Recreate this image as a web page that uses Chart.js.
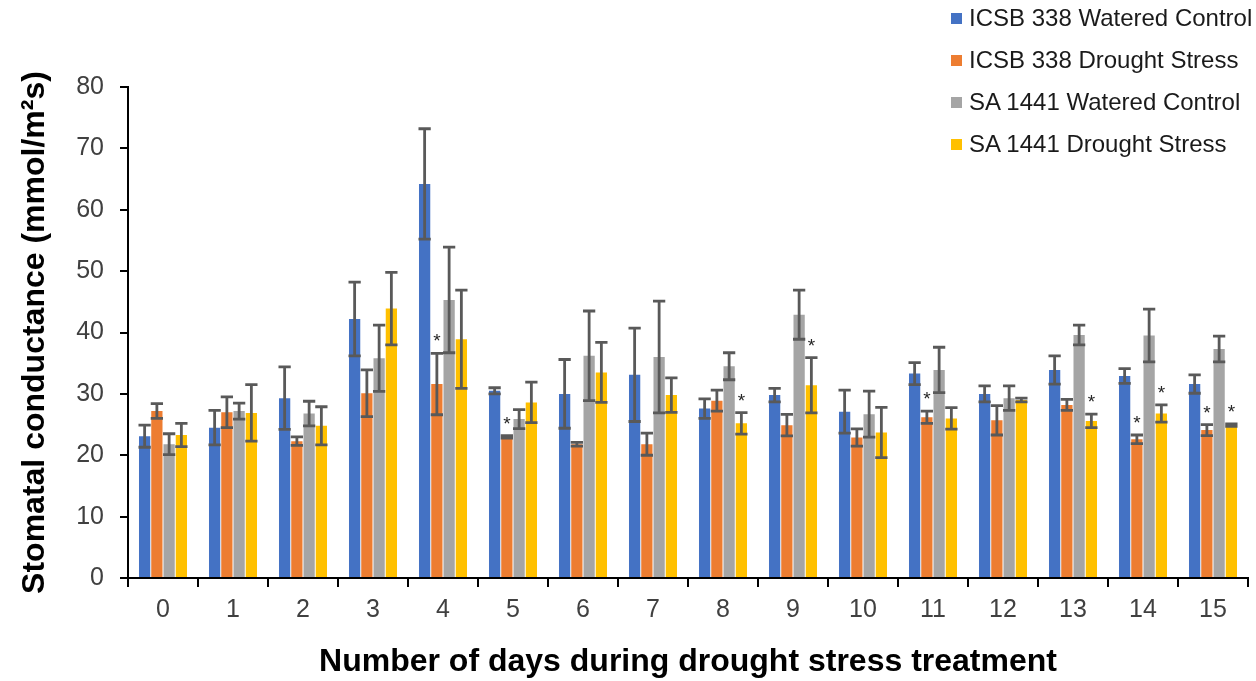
<!DOCTYPE html>
<html>
<head>
<meta charset="utf-8">
<script src="https://cdn.jsdelivr.net/npm/chart.js@4.4.1/dist/chart.umd.min.js"></script>
<style>
    body { margin: 0; background: #fff; }
    #wrap { position: relative; width: 1256px; height: 681px; }
    #legend { position: absolute; left: 951px; top: -3px; font-family: "Liberation Sans", Arial, sans-serif; font-size: 24px; color: #1a1a1a; }
    #legend div { height: 42px; display: flex; align-items: center; white-space: nowrap; }
    #legend span.box { display: inline-block; width: 11px; height: 11px; margin-right: 7px; }
</style>
</head>
<body>
<div id="wrap">
    <canvas id="myChart"></canvas>
    <div id="legend"></div>
</div>
<script>
// data
const days = ['0', '1', '2', '3', '4', '5', '6', '7', '8', '9', '10', '11', '12', '13', '14', '15'];

const icsbControl = [23.1, 24.5, 29.3, 42.2, 64.2, 30.5, 30.0, 33.1, 27.6, 29.8, 27.1, 33.3, 30.0, 33.9, 32.9, 31.6];
const icsbControlErr = [1.8, 2.8, 5.1, 6.0, 9.0, 0.5, 5.6, 7.6, 1.6, 1.1, 3.5, 1.8, 1.3, 2.3, 1.2, 1.5];

const icsbDrought = [27.2, 27.0, 22.3, 30.1, 31.6, 23.0, 21.8, 21.8, 28.9, 24.9, 22.9, 26.2, 25.7, 28.2, 22.6, 24.1];
const icsbDroughtErr = [1.2, 2.5, 0.7, 3.8, 5.0, 0.2, 0.3, 1.8, 1.7, 1.75, 1.4, 1.0, 2.4, 0.9, 0.7, 0.9];

const saControl = [21.8, 27.2, 26.8, 35.8, 45.3, 25.9, 36.2, 36.0, 34.5, 42.9, 26.7, 33.9, 29.3, 39.6, 39.5, 37.3];
const saControlErr = [1.7, 1.3, 2.0, 5.4, 8.6, 1.55, 7.3, 9.1, 2.2, 4.0, 3.75, 3.7, 2.0, 1.6, 4.3, 2.1];

const saDrought = [23.3, 26.9, 24.8, 43.9, 38.9, 28.6, 33.5, 29.8, 25.2, 31.4, 23.7, 26.0, 29.0, 25.6, 26.8, 24.9];
const saDroughtErr = [1.9, 4.6, 3.1, 5.9, 8.0, 3.3, 4.9, 2.8, 1.75, 4.5, 4.1, 1.75, 0.3, 1.1, 1.4, 0.2];

// days marked with * (significant)
const icsbDroughtStars = [4, 5, 11, 14, 15];
const saDroughtStars = [8, 9, 13, 14, 15];

const yTicks = [0, 10, 20, 30, 40, 50, 60, 70, 80];

const font = '"Liberation Sans", Arial, sans-serif';

const series = [
    { label: 'ICSB 338 Watered Control', data: icsbControl, err: icsbControlErr, stars: [], color: '#4472C4' },
    { label: 'ICSB 338 Drought Stress', data: icsbDrought, err: icsbDroughtErr, stars: icsbDroughtStars, color: '#ED7D31' },
    { label: 'SA 1441 Watered Control', data: saControl, err: saControlErr, stars: [], color: '#A5A5A5' },
    { label: 'SA 1441 Drought Stress', data: saDrought, err: saDroughtErr, stars: saDroughtStars, color: '#FFC000' }
];

//error bars + asterisks
const errorBars = {
    id: 'errorBars',
    afterDatasetsDraw(chart) {
        const ctx = chart.ctx;
        const yScale = chart.scales.y;
        ctx.save();
        series.forEach((s, i) => {
            const meta = chart.getDatasetMeta(i);
            meta.data.forEach((bar, j) => {
                const top = yScale.getPixelForValue(s.data[j] + s.err[j]);
                const bot = yScale.getPixelForValue(s.data[j] - s.err[j]);
                const half = bar.width / 2 + 0.5;
                ctx.strokeStyle = '#595959';
                ctx.lineWidth = 2.8;
                ctx.beginPath();
                ctx.moveTo(bar.x, top);
                ctx.lineTo(bar.x, bot);
                ctx.moveTo(bar.x - half, top);
                ctx.lineTo(bar.x + half, top);
                ctx.moveTo(bar.x - half, bot);
                ctx.lineTo(bar.x + half, bot);
                ctx.stroke();
                if (s.stars.includes(j)) {
                    ctx.fillStyle = '#262626';
                    ctx.font = '19px ' + font;
                    ctx.textAlign = 'center';
                    ctx.textBaseline = 'alphabetic';
                    ctx.fillText('*', bar.x, top - 6);
                }
            });
        });
        ctx.restore();
    }
};

// legend
const legend = document.getElementById('legend');
series.forEach(s => {
    const row = document.createElement('div');
    row.innerHTML = '<span class="box" style="background:' + s.color + '"></span>' + s.label;
    legend.appendChild(row);
});

const ctx = document.getElementById('myChart');

new Chart(ctx, {
    type: 'bar',
    data: {
        labels: days,
        datasets: series.map(s => ({
            label: s.label,
            data: s.data,
            backgroundColor: s.color,
            borderWidth: 0,
            categoryPercentage: 0.7,
            barPercentage: 0.92
        }))
    },
    options: {
        responsive: true,
        maintainAspectRatio: false,
        animation: false,
        devicePixelRatio: 1,
        layout: { padding: { top: 87, right: 8, left: 0, bottom: 0 } },
        plugins: {
            legend: { display: false },
            tooltip: { enabled: false }
        },
        scales: {
            x: {
                grid: { drawOnChartArea: false, tickLength: 9, color: '#000', lineWidth: 2 },
                border: { display: true, color: '#000', width: 2 },
                ticks: { color: '#404040', font: { family: font, size: 25 }, padding: 8 },
                title: {
                    display: true,
                    text: 'Number of days during drought stress treatment',
                    color: '#000',
                    font: { family: font, size: 32, weight: 'bold' },
                    padding: { top: 0, bottom: 0 }
                },
                afterFit(scale) { scale.height = 103; }
            },
            y: {
                min: 0,
                max: 80,
                afterBuildTicks(scale) { scale.ticks = yTicks.map(v => ({ value: v })); },
                grid: { drawOnChartArea: false, tickLength: 8, color: '#000', lineWidth: 2 },
                border: { display: true, color: '#000', width: 2 },
                ticks: { color: '#404040', font: { family: font, size: 25 }, padding: 16 },
                title: {
                    display: true,
                    text: 'Stomatal conductance (mmol/m²s)',
                    color: '#000',
                    font: { family: font, size: 32, weight: 'bold' },
                    padding: { top: 16, bottom: 0 }
                },
                afterFit(scale) { scale.width = 128; }
            }
        }
    },
    plugins: [errorBars]
});
</script>
</body>
</html>
